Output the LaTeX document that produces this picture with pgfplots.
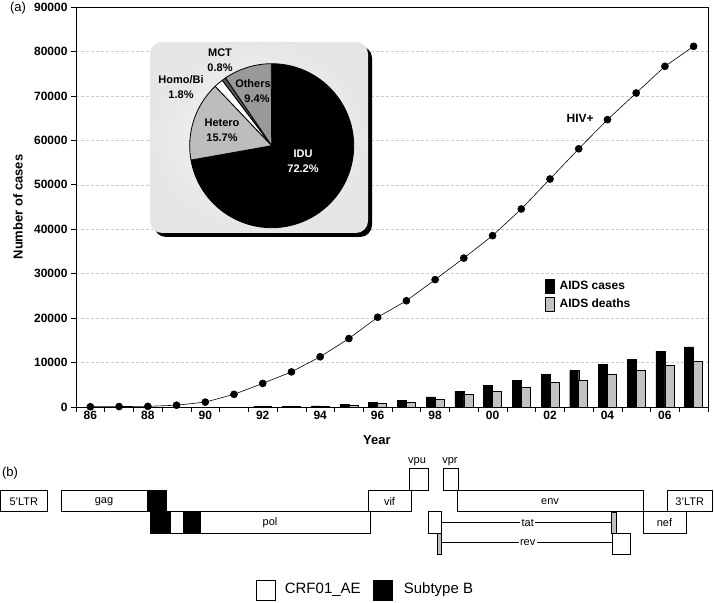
\documentclass[border=0pt]{standalone}
\usepackage{pgfplots}
\pgfplotsset{compat=1.18}
\usepackage{fontspec}
\setmainfont{Liberation Sans}
\definecolor{deathgray}{HTML}{C2C2C2}
\definecolor{hetgray}{HTML}{BDBDBD}
\definecolor{othgray}{HTML}{999999}
\definecolor{mctgray}{HTML}{555555}
\newcommand\tl{\fontsize{12}{14}\selectfont\bfseries}
\newcommand\pl{\fontsize{11}{13}\selectfont\bfseries}
\newcommand\gl{\fontsize{11}{13}\selectfont}
\begin{document}
\begin{tikzpicture}[x=1pt,y=1pt]
\useasboundingbox (0,0) rectangle (714,602);
% ---------- (a) ----------
\node[font=\fontsize{13}{15}\selectfont] at (18,594) {(a)};
\begin{axis}[
  at={(76pt,195pt)}, anchor=south west,
  width=632pt, height=400pt, scale only axis,
  xmin=85.5, xmax=107.5, ymin=0, ymax=90000,
  xtick={85.5,86.5,...,107.5}, xticklabels={},
  extra x ticks={86,88,...,106},
  extra x tick labels={86,88,90,92,94,96,98,00,02,04,06},
  extra x tick style={major tick length=0pt},
  ytick={0,10000,...,90000},
  scaled y ticks=false,
  /pgf/number format/1000 sep={},
  /pgf/number format/assume math mode=true,
  ymajorgrids, grid style={densely dashed, gray!40, line width=0.4pt},
  tick align=outside, tick pos=left, major tick length=5pt,
  tick style={black, line width=0.6pt},
  axis line style={line width=0.8pt},
  tick label style={font=\tl},
  xticklabel style={yshift=-1pt},
  xlabel={Year}, ylabel={Number of cases},
  label style={font=\fontsize{13}{15}\selectfont\bfseries},
  xlabel style={at={(axis description cs:0.476,-0.083)}, anchor=center},
  ylabel style={at={(axis description cs:-0.092,0.5)}, anchor=center},
  legend style={at={(axis description cs:0.737,0.325)}, anchor=north west,
    draw=none, fill=none, font=\fontsize{12}{14}\selectfont\bfseries, row sep=3pt,
    /tikz/every odd column/.style={column sep=3pt}},
  legend cell align=left,
]
\addplot[forget plot, black, line width=0.6pt, mark=*, mark size=3.5pt] coordinates {
  (86,50) (87,100) (88,150) (89,400) (90,1100) (91,2850) (92,5300) (93,7900)
  (94,11300) (95,15400) (96,20200) (97,23900) (98,28650) (99,33500) (100,38550)
  (101,44550) (102,51300) (103,58100) (104,64650) (105,70650) (106,76650) (107,81150)
};
\addplot[ybar, bar width=9pt, bar shift=-4.5pt, fill=black, draw=black,
  legend image code/.code={\draw[fill=black] (0pt,-7pt) rectangle (9pt,7pt);}]
  coordinates {
  (92,150) (93,200) (94,250) (95,550) (96,1000) (97,1500) (98,2300) (99,3450)
  (100,4800) (101,5950) (102,7300) (103,8250) (104,9550) (105,10750) (106,12550) (107,13500)
};
\addlegendentry{AIDS cases}
\addplot[ybar, bar width=9pt, bar shift=4.5pt, fill=deathgray, draw=black, line width=0.6pt,
  legend image code/.code={\draw[fill=deathgray, line width=0.6pt] (0pt,-7pt) rectangle (9pt,7pt);}]
  coordinates {
  (92,50) (93,100) (94,150) (95,450) (96,750) (97,1000) (98,1700) (99,2800)
  (100,3450) (101,4500) (102,5500) (103,5950) (104,7300) (105,8200) (106,9300) (107,10250)
};
\addlegendentry{AIDS deaths}
\node[font=\tl] at (axis cs:103.05,64900) {HIV+};
\end{axis}
% inset pie
\fill[black, rounded corners=12pt] (154,365) rectangle (372,556);
\shade[rounded corners=12pt, inner color=gray!6, outer color=gray!20] (150,369) rectangle (368,560);
\coordinate (C) at (271.7,456.3);
\def\ang{90}
\foreach \p/\c in {72.2/black, 15.7/hetgray, 1.8/white, 0.8/mctgray, 9.4/othgray} {
  \pgfmathsetmacro\e{\ang-\p*3.6}
  \filldraw[fill=\c, draw=black, line width=0.8pt, line join=round]
    (C) -- ++(\ang:82) arc[start angle=\ang, end angle=\e, radius=82] -- cycle;
  \xdef\ang{\e}
}
\begin{scope}[font=\pl]
\node at (220,549) {MCT};
\node at (220,534) {0.8\%};
\node at (181,522) {Homo/Bi};
\node at (181,507) {1.8\%};
\node at (253,518) {Others};
\node at (257,503) {9.4\%};
\node at (222,479) {Hetero};
\node at (222,464) {15.7\%};
\node[white] at (303,448) {IDU};
\node[white] at (303,433) {72.2\%};
\end{scope}
% ---------- (b) ----------
\node[font=\fontsize{13}{15}\selectfont] at (10,129) {(b)};
\begin{scope}[line width=1pt, font=\gl]
\draw[fill=white] (0.7,90) rectangle (47,111) node[midway] {5'LTR};
\draw[fill=white] (61,90) rectangle (147,111) node[midway] {gag};
\fill[black] (146.7,90) rectangle (166.7,111.5);
\draw[fill=white] (150,69) rectangle (370,90);
\node at (270,79.5) {pol};
\fill[black] (150,68.5) rectangle (171,90);
\fill[black] (182.7,68.5) rectangle (201,90);
\draw (146.7,111) -- (166.7,111) -- (166.7,90);
\draw[fill=white] (368,90) rectangle (411,111) node[midway] {vif};
\draw[fill=white] (409,111) rectangle (428,133);
\node at (417,140.5) {vpu};
\draw[fill=white] (443,111) rectangle (458,133);
\node at (450,140.5) {vpr};
\draw[fill=white] (457,90) rectangle (643,111) node[midway] {env};
\draw[fill=white] (667,90) rectangle (712.5,111) node[midway] {3'LTR};
\draw[fill=white] (643,69) rectangle (686,90) node[midway] {nef};
% tat
\draw (441,79.3) -- (611,79.3);
\node[fill=white, inner sep=1.5pt] at (527.7,79.3) {tat};
\draw[fill=white] (428,69) rectangle (441,90);
\draw[fill=gray!50, line width=0.8pt] (611,69) rectangle (616.5,90);
% rev
\draw (441,59.3) -- (612,59.3);
\node[fill=white, inner sep=1.5pt] at (527.7,59.3) {rev};
\draw[fill=gray!50, line width=0.8pt] (437.3,48) rectangle (441,69);
\draw[fill=white] (612,48) rectangle (630,69);
% legend
\draw[fill=white] (256,2) rectangle (275,22);
\node[anchor=west, font=\fontsize{15}{17}\selectfont] at (281,12) {CRF01\_AE};
\draw[fill=black] (373,2) rectangle (392,22);
\node[anchor=west, font=\fontsize{15}{17}\selectfont] at (400,12) {Subtype B};
\end{scope}
\end{tikzpicture}
\end{document}
